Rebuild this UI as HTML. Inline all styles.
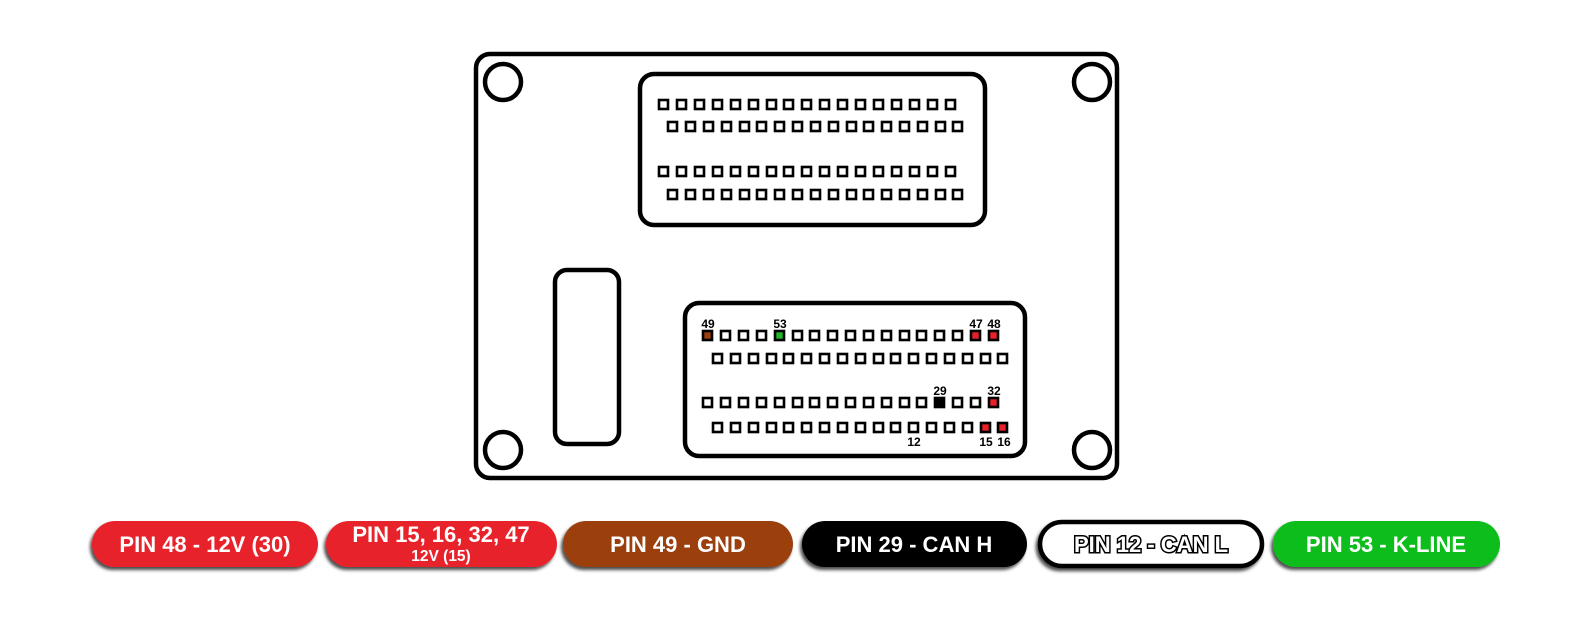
<!DOCTYPE html>
<html><head><meta charset="utf-8"><style>
html,body{margin:0;padding:0;background:#fff;width:1586px;height:627px;overflow:hidden}
</style></head><body>
<svg width="1586" height="627" viewBox="0 0 1586 627" xmlns="http://www.w3.org/2000/svg">
<defs>
<filter id="sh" x="-10%" y="-30%" width="120%" height="170%">
<feDropShadow dx="-2" dy="3" stdDeviation="1.5" flood-color="#000" flood-opacity="0.7"/>
</filter>
</defs>
<g fill="none" stroke="#000" stroke-width="4.5">
<rect x="476" y="54" width="641" height="424" rx="14"/>
<circle cx="503" cy="82" r="18"/><circle cx="1092" cy="82" r="18"/>
<circle cx="503" cy="450" r="18"/><circle cx="1092" cy="450" r="18"/>
<rect x="640" y="74" width="345" height="151" rx="14"/>
<rect x="555" y="270" width="64" height="174" rx="12"/>
<rect x="685" y="303" width="340" height="153" rx="14"/>
</g>
<g fill="#fff" stroke="#000" stroke-width="2.6">
<rect x="659" y="100" width="9" height="9"/><rect x="677" y="100" width="9" height="9"/><rect x="695" y="100" width="9" height="9"/><rect x="713" y="100" width="9" height="9"/><rect x="731" y="100" width="9" height="9"/><rect x="749" y="100" width="9" height="9"/><rect x="767" y="100" width="9" height="9"/><rect x="784" y="100" width="9" height="9"/><rect x="802" y="100" width="9" height="9"/><rect x="820" y="100" width="9" height="9"/><rect x="838" y="100" width="9" height="9"/><rect x="856" y="100" width="9" height="9"/><rect x="874" y="100" width="9" height="9"/><rect x="892" y="100" width="9" height="9"/><rect x="910" y="100" width="9" height="9"/><rect x="928" y="100" width="9" height="9"/><rect x="946" y="100" width="9" height="9"/>
<rect x="668" y="122" width="9" height="9"/><rect x="686" y="122" width="9" height="9"/><rect x="704" y="122" width="9" height="9"/><rect x="722" y="122" width="9" height="9"/><rect x="740" y="122" width="9" height="9"/><rect x="757" y="122" width="9" height="9"/><rect x="775" y="122" width="9" height="9"/><rect x="793" y="122" width="9" height="9"/><rect x="811" y="122" width="9" height="9"/><rect x="829" y="122" width="9" height="9"/><rect x="847" y="122" width="9" height="9"/><rect x="864" y="122" width="9" height="9"/><rect x="882" y="122" width="9" height="9"/><rect x="900" y="122" width="9" height="9"/><rect x="918" y="122" width="9" height="9"/><rect x="936" y="122" width="9" height="9"/><rect x="953" y="122" width="9" height="9"/>
<rect x="659" y="167" width="9" height="9"/><rect x="677" y="167" width="9" height="9"/><rect x="695" y="167" width="9" height="9"/><rect x="713" y="167" width="9" height="9"/><rect x="731" y="167" width="9" height="9"/><rect x="749" y="167" width="9" height="9"/><rect x="767" y="167" width="9" height="9"/><rect x="784" y="167" width="9" height="9"/><rect x="802" y="167" width="9" height="9"/><rect x="820" y="167" width="9" height="9"/><rect x="838" y="167" width="9" height="9"/><rect x="856" y="167" width="9" height="9"/><rect x="874" y="167" width="9" height="9"/><rect x="892" y="167" width="9" height="9"/><rect x="910" y="167" width="9" height="9"/><rect x="928" y="167" width="9" height="9"/><rect x="946" y="167" width="9" height="9"/>
<rect x="668" y="190" width="9" height="9"/><rect x="686" y="190" width="9" height="9"/><rect x="704" y="190" width="9" height="9"/><rect x="722" y="190" width="9" height="9"/><rect x="740" y="190" width="9" height="9"/><rect x="757" y="190" width="9" height="9"/><rect x="775" y="190" width="9" height="9"/><rect x="793" y="190" width="9" height="9"/><rect x="811" y="190" width="9" height="9"/><rect x="829" y="190" width="9" height="9"/><rect x="847" y="190" width="9" height="9"/><rect x="864" y="190" width="9" height="9"/><rect x="882" y="190" width="9" height="9"/><rect x="900" y="190" width="9" height="9"/><rect x="918" y="190" width="9" height="9"/><rect x="936" y="190" width="9" height="9"/><rect x="953" y="190" width="9" height="9"/>
<rect x="703" y="331" width="9" height="9" fill="#9b3f10"/><rect x="721" y="331" width="9" height="9"/><rect x="739" y="331" width="9" height="9"/><rect x="757" y="331" width="9" height="9"/><rect x="775" y="331" width="9" height="9" fill="#1fb82a"/><rect x="793" y="331" width="9" height="9"/><rect x="810" y="331" width="9" height="9"/><rect x="828" y="331" width="9" height="9"/><rect x="846" y="331" width="9" height="9"/><rect x="864" y="331" width="9" height="9"/><rect x="882" y="331" width="9" height="9"/><rect x="900" y="331" width="9" height="9"/><rect x="917" y="331" width="9" height="9"/><rect x="935" y="331" width="9" height="9"/><rect x="953" y="331" width="9" height="9"/><rect x="971" y="331" width="9" height="9" fill="#e8202a"/><rect x="989" y="331" width="9" height="9" fill="#e8202a"/>
<rect x="713" y="354" width="9" height="9"/><rect x="731" y="354" width="9" height="9"/><rect x="749" y="354" width="9" height="9"/><rect x="767" y="354" width="9" height="9"/><rect x="784" y="354" width="9" height="9"/><rect x="802" y="354" width="9" height="9"/><rect x="820" y="354" width="9" height="9"/><rect x="838" y="354" width="9" height="9"/><rect x="856" y="354" width="9" height="9"/><rect x="874" y="354" width="9" height="9"/><rect x="891" y="354" width="9" height="9"/><rect x="909" y="354" width="9" height="9"/><rect x="927" y="354" width="9" height="9"/><rect x="945" y="354" width="9" height="9"/><rect x="963" y="354" width="9" height="9"/><rect x="981" y="354" width="9" height="9"/><rect x="998" y="354" width="9" height="9"/>
<rect x="703" y="398" width="9" height="9"/><rect x="721" y="398" width="9" height="9"/><rect x="739" y="398" width="9" height="9"/><rect x="757" y="398" width="9" height="9"/><rect x="775" y="398" width="9" height="9"/><rect x="793" y="398" width="9" height="9"/><rect x="810" y="398" width="9" height="9"/><rect x="828" y="398" width="9" height="9"/><rect x="846" y="398" width="9" height="9"/><rect x="864" y="398" width="9" height="9"/><rect x="882" y="398" width="9" height="9"/><rect x="900" y="398" width="9" height="9"/><rect x="917" y="398" width="9" height="9"/><rect x="935" y="398" width="9" height="9" fill="#000"/><rect x="953" y="398" width="9" height="9"/><rect x="971" y="398" width="9" height="9"/><rect x="989" y="398" width="9" height="9" fill="#e8202a"/>
<rect x="713" y="423" width="9" height="9"/><rect x="731" y="423" width="9" height="9"/><rect x="749" y="423" width="9" height="9"/><rect x="767" y="423" width="9" height="9"/><rect x="784" y="423" width="9" height="9"/><rect x="802" y="423" width="9" height="9"/><rect x="820" y="423" width="9" height="9"/><rect x="838" y="423" width="9" height="9"/><rect x="856" y="423" width="9" height="9"/><rect x="874" y="423" width="9" height="9"/><rect x="891" y="423" width="9" height="9"/><rect x="909" y="423" width="9" height="9"/><rect x="927" y="423" width="9" height="9"/><rect x="945" y="423" width="9" height="9"/><rect x="963" y="423" width="9" height="9"/><rect x="981" y="423" width="9" height="9" fill="#e8202a"/><rect x="998" y="423" width="9" height="9" fill="#e8202a"/>
</g>
<g font-family="Liberation Sans, sans-serif" font-weight="bold" font-size="12" fill="#000" text-anchor="middle">
<text x="708" y="328">49</text><text x="780" y="328">53</text><text x="976" y="328">47</text><text x="994" y="328">48</text>
<text x="940" y="395">29</text><text x="994" y="395">32</text>
<text x="914" y="446">12</text><text x="986" y="446">15</text><text x="1004" y="446">16</text>
</g>
<g font-family="Liberation Sans, sans-serif" font-weight="bold" text-anchor="middle">
<rect x="92" y="521" width="226" height="46" rx="23" fill="#e8202a" filter="url(#sh)"/>
<text x="205" y="552" font-size="22" fill="#fff">PIN 48 - 12V (30)</text>
<rect x="326" y="521" width="231" height="46" rx="23" fill="#e8202a" filter="url(#sh)"/>
<text x="441" y="542" font-size="22" fill="#fff">PIN 15, 16, 32, 47</text>
<text x="441" y="561" font-size="15.5" fill="#fff">12V (15)</text>
<rect x="563" y="521" width="230" height="46" rx="23" fill="#9b3f10" filter="url(#sh)"/>
<text x="678" y="552" font-size="22" fill="#fff">PIN 49 - GND</text>
<rect x="802" y="521" width="225" height="46" rx="23" fill="#000" filter="url(#sh)"/>
<text x="914" y="552" font-size="22" fill="#fff">PIN 29 - CAN H</text>
<rect x="1040" y="522" width="222" height="44" rx="22" fill="#fff" stroke="#000" stroke-width="4.5" filter="url(#sh)"/>
<text x="1151" y="552" font-size="22" fill="#fff" stroke="#000" stroke-width="3" paint-order="stroke">PIN 12 - CAN L</text>
<rect x="1273" y="521" width="227" height="46" rx="23" fill="#08bd1a" filter="url(#sh)"/>
<text x="1386" y="552" font-size="22" fill="#fff">PIN 53 - K-LINE</text>
</g>
</svg>
</body></html>
